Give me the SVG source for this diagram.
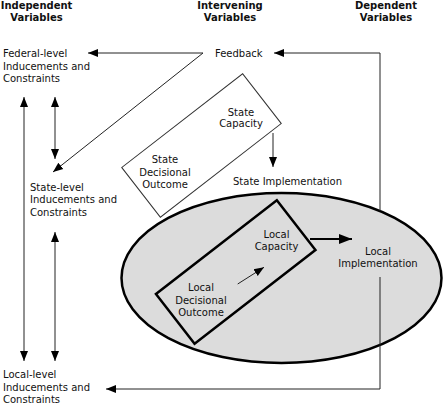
<svg xmlns="http://www.w3.org/2000/svg" width="443" height="405" viewBox="0 0 443 405">
<style>
text{font-family:"DejaVu Sans",Verdana,sans-serif;font-size:10px;fill:#111}
.h{font-weight:bold;text-anchor:middle}
.m{text-anchor:middle}
.ln{fill:none;stroke:#222;stroke-width:1}
.thick{fill:none;stroke:#000;stroke-width:2}
</style>
<defs>
<marker id="ah" markerUnits="userSpaceOnUse" markerWidth="10" markerHeight="10" viewBox="0 0 10 10" refX="10" refY="5" orient="auto-start-reverse">
<path d="M0,1 L10,5 L0,9 z" fill="#000"/>
</marker>
<marker id="ahb" markerUnits="userSpaceOnUse" markerWidth="13" markerHeight="12" viewBox="0 0 13 12" refX="13" refY="6" orient="auto">
<path d="M0,1 L13,6 L0,11 z" fill="#000"/>
</marker>
</defs>
<g id="headers">
<text class="h" x="36.5" y="8.5">Independent</text>
<text class="h" x="36.5" y="21">Variables</text>
<text class="h" x="230" y="8.5">Intervening</text>
<text class="h" x="230" y="21">Variables</text>
<text class="h" x="386" y="8.5">Dependent</text>
<text class="h" x="386" y="21">Variables</text>
</g>
<g id="local-system">
<ellipse cx="281.5" cy="278" rx="160" ry="85" fill="#dcdcdc" stroke="#000" stroke-width="2.5"/>
</g>
<g id="federal">
<text x="3" y="57">Federal-level</text>
<text x="3" y="69.7">Inducements and</text>
<text x="3" y="82.4">Constraints</text>
</g>
<g id="state-level">
<text x="30" y="190.5">State-level</text>
<text x="30" y="203.2">Inducements and</text>
<text x="30" y="215.9">Constraints</text>
</g>
<g id="local-level">
<text x="3" y="378">Local-level</text>
<text x="3" y="390.7">Inducements and</text>
<text x="3" y="403.4">Constraints</text>
</g>
<g id="feedback">
<text x="215" y="57">Feedback</text>
</g>
<g id="state-box">
<rect x="-76.5" y="-31.5" width="153" height="63" transform="translate(201.5 145.5) rotate(-37.8)" fill="none" stroke="#333" stroke-width="1"/>
<text class="m" x="241" y="115.5">State</text>
<text class="m" x="241" y="127">Capacity</text>
<text class="m" x="165" y="163">State</text>
<text class="m" x="165" y="175.5">Decisional</text>
<text class="m" x="165" y="188">Outcome</text>
</g>
<g id="state-implementation">
<text x="233" y="184.5">State Implementation</text>
</g>
<g id="local-box">
<rect x="-76.5" y="-31.5" width="153" height="63" transform="translate(235.7 272) rotate(-37.8)" fill="none" stroke="#000" stroke-width="2.5"/>
<text class="m" x="276.5" y="238">Local</text>
<text class="m" x="276.5" y="249.5">Capacity</text>
<text class="m" x="201" y="291">Local</text>
<text class="m" x="201" y="303.5">Decisional</text>
<text class="m" x="201" y="316">Outcome</text>
</g>
<g id="local-implementation">
<text class="m" x="378" y="255">Local</text>
<text class="m" x="378" y="267.3">Implementation</text>
</g>
<g id="connectors">
<path class="ln" d="M203,53 L88,53" marker-end="url(#ah)"/>
<path class="ln" d="M203,53 L53,172" marker-end="url(#ah)"/>
<path class="ln" d="M380,211 L380,53 L274,53" marker-end="url(#ah)"/>
<path class="ln" d="M380,277 L380,389 L106,389" marker-end="url(#ah)"/>
<path class="ln" d="M24,97 L24,361" marker-start="url(#ah)" marker-end="url(#ah)"/>
<path class="ln" d="M55,97 L55,159" marker-start="url(#ah)" marker-end="url(#ah)"/>
<path class="ln" d="M55,232 L55,361" marker-start="url(#ah)" marker-end="url(#ah)"/>
<path class="ln" d="M273,133 L273,167" marker-end="url(#ah)"/>
<path class="ln" d="M237.7,284 L264,267.3" stroke-width="1.5" marker-end="url(#ah)"/>
<path class="thick" d="M310,239 L352,239" marker-end="url(#ahb)"/>
</g>
</svg>
